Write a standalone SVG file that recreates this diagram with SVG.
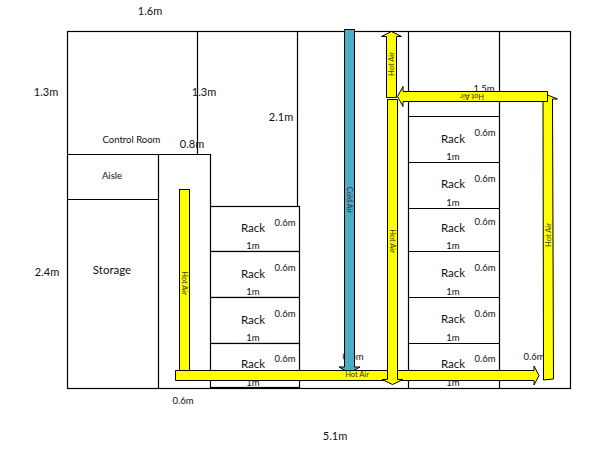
<svg xmlns="http://www.w3.org/2000/svg" width="606" height="455" viewBox="0 0 606 455">
<style>
text{font-family:Lato,"Liberation Sans",sans-serif;fill:#111;text-anchor:middle}
.s{font-size:9.5px}.m{font-size:11px}.r{font-size:11.500px}
.t{font-size:7.500px;fill:#333}
.w{fill:none;stroke:#000;stroke-width:1.2}
.rk{fill:#fff;stroke:#000;stroke-width:1.2}
.y{fill:#ff0;stroke:#000;stroke-width:1}
.c{fill:#4bacc6;stroke:#000;stroke-width:1}
</style>
<rect width="606" height="455" fill="#fff"/>
<g id="walls">
<rect class="w" x="67.500" y="31.500" width="503" height="357"/>
<path class="w" d="M197.500 31.500V154.500M297.500 31.500V206.500M408.500 31.500V388.500M499.500 31.500V388.500M67.500 154.500H210.500V206.500M67.500 199.500H158.500M158.500 154.500V388.500"/>
</g>
<g id="rack-left">
<rect class="rk" x="210.500" y="206.500" width="89" height="45"/>
<rect class="rk" x="210.500" y="251.500" width="89" height="46"/>
<rect class="rk" x="210.500" y="297.500" width="89" height="46"/>
<rect class="rk" x="210.500" y="343.500" width="89" height="44"/>
</g>
<g id="rack-right">
<path class="w" d="M408.500 116.500H499.500M408.500 162.500H499.500M408.500 208.500H499.500M408.500 251.500H499.500M408.500 297.500H499.500M408.500 343.500H499.500"/>
</g>
<g id="labels">
<text class="m" x="150" y="15">1.6m</text>
<text class="m" x="46" y="96">1.3m</text>
<text class="m" x="204" y="96">1.3m</text>
<text class="m" x="281" y="121">2.1m</text>
<text class="m" x="192" y="148">0.8m</text>
<text class="s" x="131.500" y="143">Control Room</text>
<text class="s" x="112" y="179">Aisle</text>
<text class="m" x="47" y="276">2.4m</text>
<text class="r" x="112" y="274">Storage</text>
<text class="s" x="183" y="404">0.6m</text>
<text class="m" x="335" y="440">5.1m</text>
<text class="s" x="484" y="92">1.5m</text>
<text class="s" x="353" y="360">0.6m</text>
<text class="s" x="534" y="360">0.6m</text>
<g id="rack-labels-left">
<text class="r" x="253" y="232">Rack</text><text class="s" x="285" y="226">0.6m</text><text class="s" x="253" y="249">1m</text>
<text class="r" x="253" y="278">Rack</text><text class="s" x="285" y="271">0.6m</text><text class="s" x="253" y="295">1m</text>
<text class="r" x="253" y="324">Rack</text><text class="s" x="285" y="317">0.6m</text><text class="s" x="253" y="341">1m</text>
<text class="r" x="253" y="368">Rack</text><text class="s" x="285" y="362">0.6m</text><text class="s" x="253" y="386">1m</text>
</g>
<g id="rack-labels-right">
<text class="r" x="453" y="143">Rack</text><text class="s" x="485" y="136">0.6m</text><text class="s" x="453" y="160">1m</text>
<text class="r" x="453" y="188">Rack</text><text class="s" x="485" y="182">0.6m</text><text class="s" x="453" y="206">1m</text>
<text class="r" x="453" y="232">Rack</text><text class="s" x="485" y="225">0.6m</text><text class="s" x="453" y="249">1m</text>
<text class="r" x="453" y="277">Rack</text><text class="s" x="485" y="271">0.6m</text><text class="s" x="453" y="295">1m</text>
<text class="r" x="453" y="323">Rack</text><text class="s" x="485" y="317">0.6m</text><text class="s" x="453" y="341">1m</text>
<text class="r" x="453" y="368">Rack</text><text class="s" x="485" y="362">0.6m</text><text class="s" x="453" y="386">1m</text>
</g>
</g>
<g id="connectors">
<path id="cold-air" class="c" d="M344.500 29.500H354.500V367H360L349.500 373L339 367H344.500Z"/>
<rect id="hot-left" class="y" x="179.500" y="189.500" width="10" height="182"/>
<path id="hot-bottom" class="y" d="M175.500 370.500H534V366L539 375.500L534 385V380.500H175.500Z"/>
<path id="hot-mid" class="y" d="M387.500 99.500H397.500V379.500H403L392.500 384.500L382 379.500H387.500Z"/>
<path id="hot-top" class="y" d="M386.500 97.500V36.500H381.500L391.500 31.500L401.500 36.500H396.500V97.500Z"/>
<path id="hot-right" class="y" d="M543.500 380L553.500 379L552.500 99H557.500L547.500 95L543 99Z"/>
<path id="hot-cross" class="y" d="M547.500 91.500V101.500H403V106.500L397.500 96.500L403 86.500V91.500Z"/>
</g>
<g id="flow-labels">
<text class="t" transform="translate(181.500 283) rotate(90)">Hot Air</text>
<text class="t" transform="translate(346.500 200) rotate(90)">Cold Air</text>
<text class="t" transform="translate(389.500 241) rotate(90)">Hot Air</text>
<text class="t" transform="translate(393.500 64) rotate(-90)">Hot Air</text>
<text class="t" transform="translate(550.500 235) rotate(-90)">Hot Air</text>
<text class="t" transform="translate(472 93.500) rotate(180)">Hot Air</text>
<text class="t" x="357" y="377">Hot Air</text>
</g>
</svg>
